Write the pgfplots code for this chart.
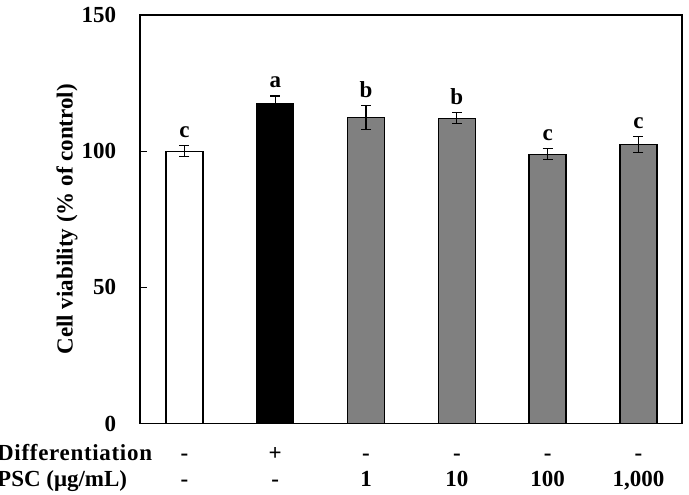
\documentclass[border=0pt]{standalone}
\usepackage{fontspec}
\setmainfont{Liberation Serif}
\usepackage{pgfplots}
\pgfplotsset{compat=1.18}
\definecolor{bargray}{RGB}{128,128,128}

\begin{document}
\fontsize{23bp}{27bp}\selectfont\bfseries
\begin{tikzpicture}
\useasboundingbox (0,0) rectangle (689bp,495bp);
\clip (0,0) rectangle (689bp,495bp);
\begin{axis}[
  at={(140bp,71.5bp)}, anchor=south west,
  scale only axis, width=542bp, height=408.5bp,
  xmin=-0.49, xmax=5.48, ymin=0, ymax=150,
  xtick=\empty,
  ytick={0,50,100,150},
  ytick pos=left, tick align=inside,
  major tick length=7bp,
  axis line style={line width=1.3bp},
  every tick/.style={black, line width=1.3bp},
  /pgf/number format/assume math mode=true,
  tick label style={font=\fontsize{23bp}{27bp}\selectfont\bfseries},
  yticklabel style={xshift=-16bp},
  ylabel={Cell viability (\% of control)},
  ylabel style={at={(axis description cs:-0.1347,0.5)}, anchor=center, rotate=0},
  ybar, bar width=37bp, bar shift=0pt,
  clip=false,
  error bars/y dir=both, error bars/y explicit,
  error bars/error bar style={line width=1.3bp, black},
  error bars/error mark options={rotate=90, mark size=5bp, line width=1.3bp, black},
]
% control
\addplot[draw=black, line width=1.3bp, fill=white]
  coordinates {(0,100) +- (0,2)};
% differentiated
\addplot[draw=black, line width=1.3bp, fill=black]
  coordinates {(1,117.6) +- (0,2.7)};
% PSC treatments
\addplot[draw=black, line width=1.3bp, fill=bargray]
  coordinates {(2,112.4) +- (0,4.4) (3,112.1) +- (0,2) (4,98.9) +- (0,2) (5,102.5) +- (0,3)};

% significance letters
\node[anchor=base, yshift=8bp] at (axis cs:0,102) {c};
\node[anchor=base, yshift=8bp] at (axis cs:1,120.3) {a};
\node[anchor=base, yshift=8bp] at (axis cs:2,116.8) {b};
\node[anchor=base, yshift=8bp] at (axis cs:3,114.1) {b};
\node[anchor=base, yshift=8bp] at (axis cs:4,100.9) {c};
\node[anchor=base, yshift=8bp] at (axis cs:5,105.5) {c};

% treatment table below the bars
\node[anchor=base, yshift=-36.5bp] at (axis cs:0,0) {-};
\node[anchor=base, yshift=-36.5bp] at (axis cs:1,0) {+};
\node[anchor=base, yshift=-36.5bp] at (axis cs:2,0) {-};
\node[anchor=base, yshift=-36.5bp] at (axis cs:3,0) {-};
\node[anchor=base, yshift=-36.5bp] at (axis cs:4,0) {-};
\node[anchor=base, yshift=-36.5bp] at (axis cs:5,0) {-};
\node[anchor=base, yshift=-62.5bp] at (axis cs:0,0) {-};
\node[anchor=base, yshift=-62.5bp] at (axis cs:1,0) {-};
\node[anchor=base, yshift=-62.5bp] at (axis cs:2,0) {1};
\node[anchor=base, yshift=-62.5bp] at (axis cs:3,0) {10};
\node[anchor=base, yshift=-62.5bp] at (axis cs:4,0) {100};
\node[anchor=base, yshift=-62.5bp] at (axis cs:5,0) {1,000};
\end{axis}
\node[anchor=base west, inner sep=0pt] at (-3bp,35bp) {\addfontfeature{LetterSpace=3}Differentiation};
\node[anchor=base west, inner sep=0pt] at (-3bp,9bp) {PSC (μg/mL)};
\end{tikzpicture}
\end{document}
